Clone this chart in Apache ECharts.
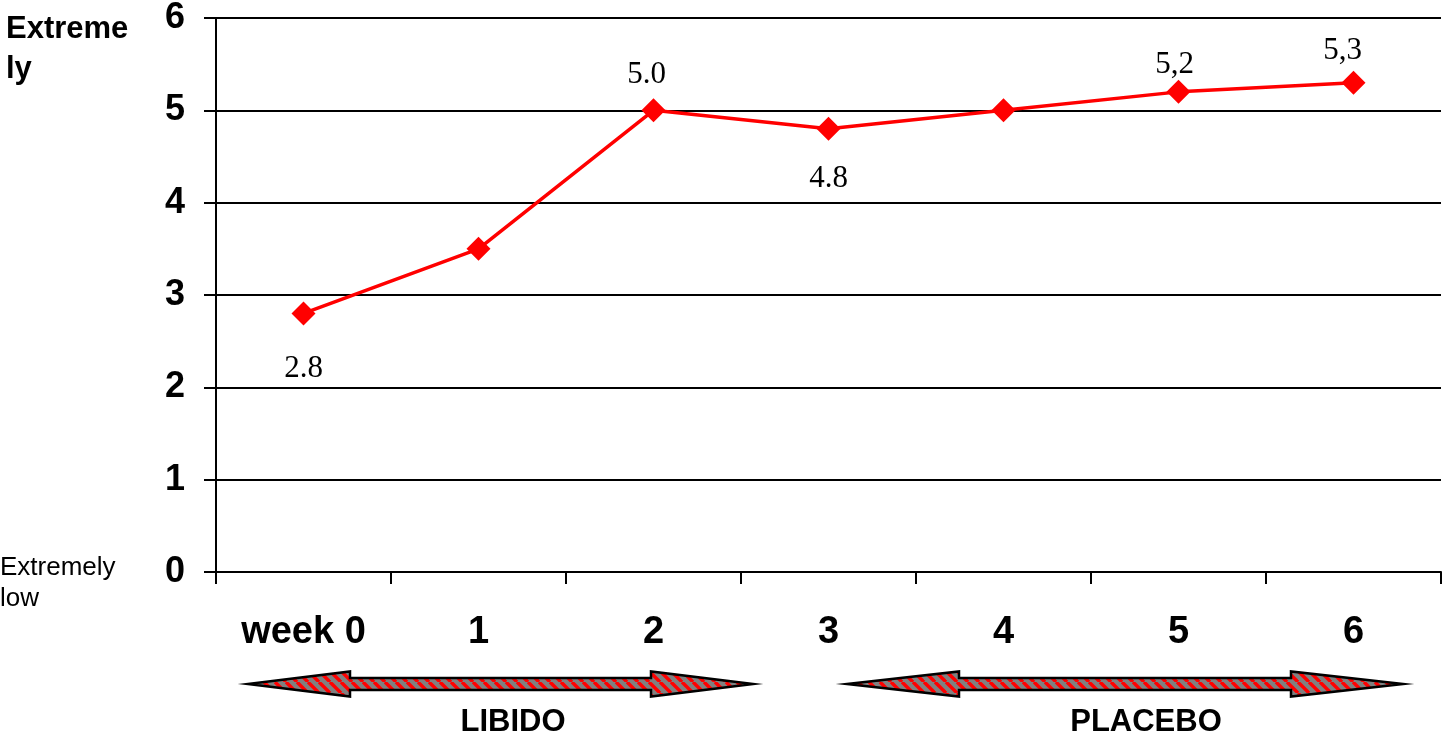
<!DOCTYPE html>
<html>
<head>
<meta charset="utf-8">
<style>
  html, body { margin: 0; padding: 0; background: #fff; }
  #chart { width: 1442px; height: 742px; }
</style>
<script src="https://cdn.jsdelivr.net/npm/echarts@6/dist/echarts.min.js"></script>
</head>
<body>
<div id="chart"></div>
<script>
// Weekly libido score, weeks 0-2 on libido treatment, weeks 3-6 on placebo
const categories = ['week 0', '1', '2', '3', '4', '5', '6'];
const scores = [2.8, 3.5, 5.0, 4.8, 5.0, 5.2, 5.3];
const pointLabels = ['2.8', '', '5.0', '4.8', '', '5,2', '5,3'];
const yTicks = [0, 1, 2, 3, 4, 5, 6];
const phaseNames = ['LIBIDO', 'PLACEBO'];

const SANS = '"Liberation Sans", Arial, Helvetica, sans-serif';
const SERIF = '"Liberation Serif", "Times New Roman", serif';

// label placement for each point: [position, distance, x offset]
const labelPlace = [
  ['bottom', 28, 0],
  ['top', 8, 0],
  ['top', 8, -7],
  ['bottom', 23, 0],
  ['top', 8, 0],
  ['top', 0, -4],
  ['top', 4, -11]
];

const data = scores.map((v, i) => ({
  value: v,
  label: {
    show: pointLabels[i] !== '',
    formatter: pointLabels[i],
    position: labelPlace[i][0],
    distance: labelPlace[i][1],
    offset: [labelPlace[i][2], 0]
  }
}));

// diagonal red / grey hatch used inside the phase arrows
function hatch() {
  const n = 11;
  const c = document.createElement('canvas');
  c.width = n; c.height = n;
  const g = c.getContext('2d');
  g.fillStyle = '#808080';
  g.fillRect(0, 0, n, n);
  g.strokeStyle = '#ff0000';
  g.lineWidth = 3.4;
  for (let k = -n; k <= n; k += n) {
    g.beginPath();
    g.moveTo(k, 0);
    g.lineTo(k + n, n);
    g.stroke();
  }
  return c;
}
const hatchCanvas = hatch();

function doubleArrow(x0, x1, cy, head, headHalf, shaftHalf) {
  return [
    [x0, cy], [x0 + head, cy - headHalf], [x0 + head, cy - shaftHalf],
    [x1 - head, cy - shaftHalf], [x1 - head, cy - headHalf], [x1, cy],
    [x1 - head, cy + headHalf], [x1 - head, cy + shaftHalf],
    [x0 + head, cy + shaftHalf], [x0 + head, cy + headHalf]
  ];
}

const arrowStyle = {
  fill: { image: hatchCanvas, repeat: 'repeat' },
  stroke: '#000',
  lineWidth: 2.5
};

const chart = echarts.init(document.getElementById('chart'));
chart.setOption({
  animation: false,
  backgroundColor: '#fff',
  grid: { left: 216, right: 1, top: 13, bottom: 170, containLabel: false },
  xAxis: {
    type: 'category',
    data: categories,
    boundaryGap: true,
    axisLine: { show: true, lineStyle: { color: '#000', width: 2 } },
    axisTick: { show: true, alignWithLabel: false, length: 12, lineStyle: { color: '#000', width: 2 } },
    axisLabel: { margin: 42, color: '#000', fontFamily: SANS, fontWeight: 'bold', fontSize: 38 },
    splitLine: { show: false }
  },
  yAxis: {
    type: 'value',
    min: yTicks[0],
    max: yTicks[yTicks.length - 1],
    interval: 1,
    axisLine: { show: true, lineStyle: { color: '#000', width: 2 } },
    axisTick: { show: true, length: 12, lineStyle: { color: '#000', width: 2 } },
    axisLabel: { margin: 31, color: '#000', fontFamily: SANS, fontWeight: 'bold', fontSize: 36 },
    splitLine: { show: true, lineStyle: { color: '#000', width: 2 } }
  },
  series: [{
    type: 'line',
    data: data,
    symbol: 'diamond',
    symbolSize: 24,
    lineStyle: { color: '#ff0000', width: 3.5 },
    itemStyle: { color: '#ff0000' },
    label: { color: '#000', fontFamily: SERIF, fontSize: 31 }
  }],
  graphic: [
    { type: 'text', left: 6, top: 9, style: { text: 'Extreme\nly', fill: '#000', font: 'bold 31px ' + SANS, lineHeight: 40 } },
    { type: 'text', left: 0, top: 552, style: { text: 'Extremely\nlow', fill: '#000', font: '26px ' + SANS, lineHeight: 31 } },
    { type: 'polygon', shape: { points: doubleArrow(248, 753, 684, 102, 12.5, 6) }, style: arrowStyle },
    { type: 'polygon', shape: { points: doubleArrow(847, 1403, 684, 112, 12.5, 6) }, style: arrowStyle },
    { type: 'text', x: 513, y: 722, style: { text: phaseNames[0], fill: '#000', font: 'bold 31px ' + SANS, align: 'center', verticalAlign: 'middle' } },
    { type: 'text', x: 1146, y: 722, style: { text: phaseNames[1], fill: '#000', font: 'bold 31px ' + SANS, align: 'center', verticalAlign: 'middle' } }
  ]
});
</script>
</body>
</html>
